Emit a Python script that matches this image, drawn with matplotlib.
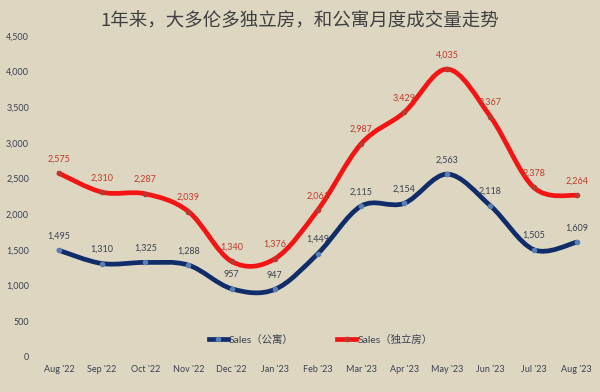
import matplotlib

matplotlib.use("Agg")
import matplotlib.pyplot as plt
import numpy as np
from matplotlib.patches import PathPatch
from matplotlib.path import Path
from matplotlib.lines import Line2D


MONTHS = ["Aug '22", "Sep '22", "Oct '22", "Nov '22", "Dec '22", "Jan '23",
          "Feb '23", "Mar '23", "Apr '23", "May '23", "Jun '23", "Jul '23",
          "Aug '23"]
CONDO = [1495, 1310, 1325, 1288, 957, 947, 1449, 2115, 2154, 2563, 2118,
         1505, 1609]
DETACHED = [2575, 2310, 2287, 2039, 1340, 1376, 2061, 2987, 3429, 4035, 3367,
            2378, 2264]
TITLE = "1年来，大多伦多独立房，和公寓月度成交量走势"
LABEL_CONDO = "Sales（公寓）"
LABEL_DETACHED = "Sales（独立房）"

BG = "#ddd7c2"
FONTS = ["Lato", "Noto Sans CJK SC", "DejaVu Sans"]


def smooth_path(xs, ys):
  # Catmull-Rom style bezier, like a spreadsheet "smoothed line"
  pts = np.column_stack([xs, ys]).astype(float)
  n = len(pts)
  verts = [pts[0]]
  codes = [Path.MOVETO]
  for i in range(n - 1):
    p0 = pts[i - 1] if i > 0 else pts[i]
    p1 = pts[i]
    p2 = pts[i + 1]
    p3 = pts[i + 2] if i + 2 < n else pts[i + 1]
    verts += [p1 + (p2 - p0) / 6.0, p2 - (p3 - p1) / 6.0, p2]
    codes += [Path.CURVE4] * 3
  return Path(verts, codes)


def draw_series(ax, values, line_color, marker_color, label_color):
  xs = np.arange(len(values))
  ax.add_patch(PathPatch(smooth_path(xs, values), fill=False,
                         edgecolor=line_color, linewidth=3.4,
                         capstyle="round", joinstyle="round", zorder=3))
  ax.plot(xs, values, linestyle="none", marker="o", markersize=3,
          markerfacecolor=marker_color, markeredgecolor=marker_color, zorder=4)
  for x, v in zip(xs, values):
    ax.annotate(f"{v:,}", (x, v), xytext=(0, 7), textcoords="offset points",
                ha="center", va="bottom", fontsize=6.5, color=label_color,
                family=FONTS, zorder=5)


def main():
  plt.rcParams["font.family"] = FONTS
  fig = plt.figure(figsize=(6.0, 3.92), dpi=100, facecolor=BG)
  ax = fig.add_axes([0.0623, 0.0893, 0.935, 0.819], facecolor=BG)

  draw_series(ax, DETACHED, "#f51414", "#b83a2e", "#c0392b")
  draw_series(ax, CONDO, "#102d6a", "#5a7fb5", "#3c4150")

  ax.set_xlim(-0.5, len(MONTHS) - 0.5)
  ax.set_ylim(0, 4500)
  ax.set_yticks(np.arange(0, 4501, 500))
  ax.set_yticklabels([f"{int(v):,}" for v in np.arange(0, 4501, 500)])
  ax.set_xticks(np.arange(len(MONTHS)))
  ax.set_xticklabels(MONTHS)
  ax.tick_params(axis="both", length=0, labelsize=6.5, labelcolor="#3c4150")
  ax.tick_params(axis="y", pad=6)
  ax.tick_params(axis="x", pad=6)
  for spine in ax.spines.values():
    spine.set_visible(False)

  handles = [
      Line2D([], [], color="#102d6a", linewidth=3.4, marker="o", markersize=3,
             markerfacecolor="#5a7fb5", markeredgecolor="#5a7fb5"),
      Line2D([], [], color="#f51414", linewidth=3.4, marker="o", markersize=3,
             markerfacecolor="#b83a2e", markeredgecolor="#b83a2e"),
  ]
  ax.legend(handles, [LABEL_CONDO, LABEL_DETACHED], loc="center",
            bbox_to_anchor=(0.505, 0.053), ncol=2, frameon=False,
            fontsize=7.5, handlelength=1.8, handletextpad=0.1,
            columnspacing=4.2, labelcolor="#3c4150")

  fig.text(0.5, 0.948, TITLE, ha="center", va="center", fontsize=13.3,
           color="#404040", family=["Noto Sans CJK SC", "DejaVu Sans"])

  fig.savefig("out.png", dpi=100, facecolor=BG)
  plt.close(fig)


if __name__ == "__main__":
  main()
